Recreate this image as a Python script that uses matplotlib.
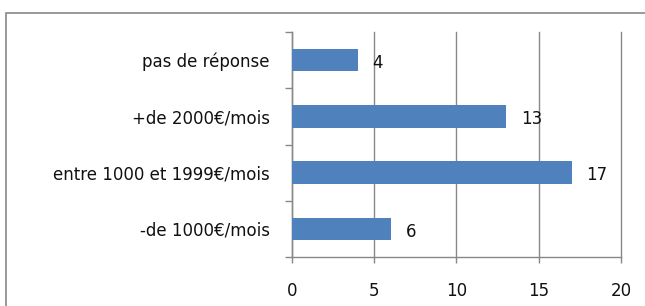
import matplotlib.pyplot as plt
from matplotlib.patches import Rectangle

categories = ['-de 1000€/mois', 'entre 1000 et 1999€/mois', '+de 2000€/mois', 'pas de réponse']
values = [6, 17, 13, 4]
xticks = [0, 5, 10, 15, 20]

plt.rcParams['font.family'] = ['DejaVu Sans']
fs = 12

fig = plt.figure(figsize=(6.45, 3.06), dpi=100)
ax = fig.add_axes([292/645, 1 - 257/306, (621 - 292)/645, (257 - 32)/306])

pos = list(range(len(categories)))
ax.barh(pos, values, height=0.4, color='#4F81BD', zorder=3)
for p, v in zip(pos, values):
    ax.text(v + 0.9, p - 0.05, str(v), va='center', ha='left', fontsize=fs, color='#111111')

ax.set_xlim(0, 20)
ax.set_ylim(-0.5, len(categories) - 0.5)
ax.set_xticks(xticks)
ax.set_xticklabels([str(t) for t in xticks], fontsize=fs)
ax.set_yticks(pos)
ax.set_yticklabels(categories, fontsize=fs)
ax.tick_params(axis='y', length=0, labelcolor='#111111', pad=16)
ax.tick_params(axis='x', length=4, width=1, color='#888888', labelcolor='#111111', pad=14)

# category boundary ticks like Excel
ax.set_yticks([p - 0.5 for p in pos] + [len(categories) - 0.5], minor=True)
ax.tick_params(axis='y', which='minor', length=5, color='#888888', width=1)

ax.grid(axis='x', color='#888888', linewidth=1, zorder=0)
for gl in ax.get_xgridlines():
    gl.set_clip_on(False)
for s in ['top', 'right']:
    ax.spines[s].set_visible(False)
for s in ['left', 'bottom']:
    ax.spines[s].set_color('#888888')
    ax.spines[s].set_linewidth(1)

# outer chart border
fig.patches.append(Rectangle((6/645, -0.1), 1.1, 1 - 13/306 + 0.1, transform=fig.transFigure,
                             fill=False, edgecolor='#888888', linewidth=1.2))

fig.savefig('out.png', dpi=100)
